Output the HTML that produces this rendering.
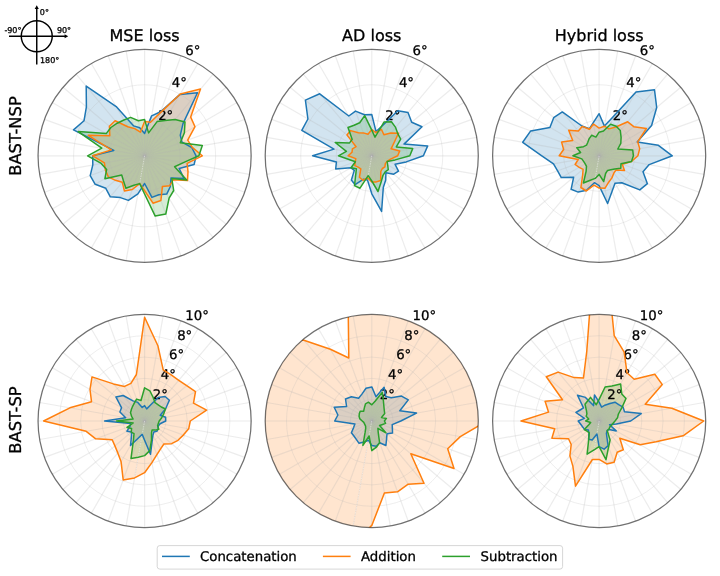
<!DOCTYPE html>
<html lang="en"><head><meta charset="utf-8"><title>Polar loss comparison</title>
<style>html,body{margin:0;padding:0;background:#fff}body{width:720px;height:576px;overflow:hidden}svg{display:block}text{font-family:"DejaVu Sans", "Liberation Sans", sans-serif;fill:#000;text-rendering:geometricPrecision;stroke:#000;stroke-width:0.3px;stroke-linejoin:round}</style>
</head><body>
<svg width="720" height="576" viewBox="0 0 720 576">
<rect width="720" height="576" fill="#fff"/>
<defs>
<clipPath id="c00"><circle cx="144.6" cy="155.8" r="106.55"/></clipPath>
<clipPath id="c01"><circle cx="371.75" cy="155.8" r="106.55"/></clipPath>
<clipPath id="c02"><circle cx="599.15" cy="155.8" r="106.55"/></clipPath>
<clipPath id="c10"><circle cx="144.6" cy="421.0" r="106.55"/></clipPath>
<clipPath id="c11"><circle cx="371.75" cy="421.0" r="106.55"/></clipPath>
<clipPath id="c12"><circle cx="599.15" cy="421.0" r="106.55"/></clipPath>
</defs>
<g>
<g clip-path="url(#c00)">
<polygon points="144.6,133.4 151.6,115.9 160.6,111.7 180.0,94.4 197.5,92.8 183.0,123.6 180.3,135.2 182.0,142.2 191.8,147.5 196.1,155.8 194.1,164.5 179.1,168.4 184.1,178.6 171.0,177.9 170.4,186.5 166.7,194.1 158.8,194.7 151.9,197.4 144.6,183.5 137.9,193.8 128.4,200.4 120.4,197.6 110.2,196.7 105.8,188.3 95.2,184.3 90.2,175.6 92.8,164.9 92.7,155.8 113.8,150.4 73.5,129.9 84.0,120.8 86.4,106.9 86.2,86.1 116.2,106.6 133.7,125.9 139.7,127.8" fill="#1f77b4" fill-opacity="0.2" stroke="none"/>
<polygon points="144.6,121.5 150.5,122.2 160.2,112.9 180.3,94.0 200.5,89.1 190.7,117.1 195.0,126.7 187.7,140.1 192.3,147.4 202.3,155.8 187.1,163.3 188.0,171.6 187.5,180.6 173.2,179.8 169.7,185.7 162.4,186.6 160.9,200.5 153.0,203.2 144.6,190.6 139.7,183.6 132.3,189.5 124.4,190.9 122.3,182.3 115.4,180.3 108.3,176.8 105.4,170.1 104.4,162.9 92.7,155.8 111.4,149.9 88.2,135.3 109.8,135.7 109.4,126.2 115.1,120.7 127.8,126.7 134.7,128.6 140.4,132.2" fill="#ff7f0e" fill-opacity="0.2" stroke="none"/>
<polygon points="144.6,119.6 148.6,132.9 157.1,121.6 165.0,120.4 175.1,119.5 185.0,121.9 184.4,132.8 180.3,142.8 202.3,145.6 198.9,155.8 183.4,162.6 174.6,166.7 186.7,180.1 171.8,178.6 173.7,190.5 169.1,198.2 165.8,214.0 155.2,216.1 144.6,194.0 139.7,183.6 133.9,185.2 125.9,188.3 123.5,181.0 121.7,175.0 104.9,178.7 106.6,169.6 101.2,163.4 87.6,155.8 101.8,148.2 78.2,131.6 106.2,133.6 110.9,127.5 117.2,123.2 123.9,120.0 130.6,117.4 138.4,120.8" fill="#2ca02c" fill-opacity="0.2" stroke="none"/>
</g>
<g stroke="#b0b0b0" stroke-opacity="0.245" stroke-width="1.2" fill="none"><line x1="144.6" y1="155.8" x2="144.6" y2="49.3"/><line x1="144.6" y1="155.8" x2="163.1" y2="50.9"/><line x1="144.6" y1="155.8" x2="181.0" y2="55.7"/><line x1="144.6" y1="155.8" x2="197.9" y2="63.5"/><line x1="144.6" y1="155.8" x2="213.1" y2="74.2"/><line x1="144.6" y1="155.8" x2="226.2" y2="87.3"/><line x1="144.6" y1="155.8" x2="236.9" y2="102.5"/><line x1="144.6" y1="155.8" x2="244.7" y2="119.4"/><line x1="144.6" y1="155.8" x2="249.5" y2="137.3"/><line x1="144.6" y1="155.8" x2="251.1" y2="155.8"/><line x1="144.6" y1="155.8" x2="249.5" y2="174.3"/><line x1="144.6" y1="155.8" x2="244.7" y2="192.2"/><line x1="144.6" y1="155.8" x2="236.9" y2="209.1"/><line x1="144.6" y1="155.8" x2="226.2" y2="224.3"/><line x1="144.6" y1="155.8" x2="213.1" y2="237.4"/><line x1="144.6" y1="155.8" x2="197.9" y2="248.1"/><line x1="144.6" y1="155.8" x2="181.0" y2="255.9"/><line x1="144.6" y1="155.8" x2="163.1" y2="260.7"/><line x1="144.6" y1="155.8" x2="144.6" y2="262.4"/><line x1="144.6" y1="155.8" x2="126.1" y2="260.7"/><line x1="144.6" y1="155.8" x2="108.2" y2="255.9"/><line x1="144.6" y1="155.8" x2="91.3" y2="248.1"/><line x1="144.6" y1="155.8" x2="76.1" y2="237.4"/><line x1="144.6" y1="155.8" x2="63.0" y2="224.3"/><line x1="144.6" y1="155.8" x2="52.3" y2="209.1"/><line x1="144.6" y1="155.8" x2="44.5" y2="192.2"/><line x1="144.6" y1="155.8" x2="39.7" y2="174.3"/><line x1="144.6" y1="155.8" x2="38.0" y2="155.8"/><line x1="144.6" y1="155.8" x2="39.7" y2="137.3"/><line x1="144.6" y1="155.8" x2="44.5" y2="119.4"/><line x1="144.6" y1="155.8" x2="52.3" y2="102.5"/><line x1="144.6" y1="155.8" x2="63.0" y2="87.3"/><line x1="144.6" y1="155.8" x2="76.1" y2="74.2"/><line x1="144.6" y1="155.8" x2="91.3" y2="63.5"/><line x1="144.6" y1="155.8" x2="108.2" y2="55.7"/><line x1="144.6" y1="155.8" x2="126.1" y2="50.9"/><circle cx="144.6" cy="155.8" r="35.52" stroke-width="0.9"/><circle cx="144.6" cy="155.8" r="71.03" stroke-width="0.9"/></g>
<line x1="144.6" y1="155.8" x2="137.9" y2="193.8" stroke="#fff" stroke-opacity="0.45" stroke-width="1" stroke-dasharray="1.5 1"/>
<text x="158.14" y="120.29" font-size="13.3">2°</text>
<text x="171.73" y="87.47" font-size="13.3">4°</text>
<text x="185.32" y="54.66" font-size="13.3">6°</text>
<g clip-path="url(#c00)" fill="none" stroke-width="1.5" stroke-linejoin="round">
<polygon points="144.6,133.4 151.6,115.9 160.6,111.7 180.0,94.4 197.5,92.8 183.0,123.6 180.3,135.2 182.0,142.2 191.8,147.5 196.1,155.8 194.1,164.5 179.1,168.4 184.1,178.6 171.0,177.9 170.4,186.5 166.7,194.1 158.8,194.7 151.9,197.4 144.6,183.5 137.9,193.8 128.4,200.4 120.4,197.6 110.2,196.7 105.8,188.3 95.2,184.3 90.2,175.6 92.8,164.9 92.7,155.8 113.8,150.4 73.5,129.9 84.0,120.8 86.4,106.9 86.2,86.1 116.2,106.6 133.7,125.9 139.7,127.8" stroke="#1f77b4"/>
<polygon points="144.6,121.5 150.5,122.2 160.2,112.9 180.3,94.0 200.5,89.1 190.7,117.1 195.0,126.7 187.7,140.1 192.3,147.4 202.3,155.8 187.1,163.3 188.0,171.6 187.5,180.6 173.2,179.8 169.7,185.7 162.4,186.6 160.9,200.5 153.0,203.2 144.6,190.6 139.7,183.6 132.3,189.5 124.4,190.9 122.3,182.3 115.4,180.3 108.3,176.8 105.4,170.1 104.4,162.9 92.7,155.8 111.4,149.9 88.2,135.3 109.8,135.7 109.4,126.2 115.1,120.7 127.8,126.7 134.7,128.6 140.4,132.2" stroke="#ff7f0e"/>
<polygon points="144.6,119.6 148.6,132.9 157.1,121.6 165.0,120.4 175.1,119.5 185.0,121.9 184.4,132.8 180.3,142.8 202.3,145.6 198.9,155.8 183.4,162.6 174.6,166.7 186.7,180.1 171.8,178.6 173.7,190.5 169.1,198.2 165.8,214.0 155.2,216.1 144.6,194.0 139.7,183.6 133.9,185.2 125.9,188.3 123.5,181.0 121.7,175.0 104.9,178.7 106.6,169.6 101.2,163.4 87.6,155.8 101.8,148.2 78.2,131.6 106.2,133.6 110.9,127.5 117.2,123.2 123.9,120.0 130.6,117.4 138.4,120.8" stroke="#2ca02c"/>
</g>
<circle cx="144.6" cy="155.8" r="106.55" fill="none" stroke="#000" stroke-opacity="0.56" stroke-width="1.25"/>
</g>
<g>
<g clip-path="url(#c01)">
<polygon points="371.8,114.6 376.0,131.5 382.9,125.3 397.8,110.7 408.0,112.5 411.7,122.2 422.0,126.8 404.0,144.1 427.7,145.9 423.4,155.8 406.2,161.9 395.1,164.3 398.5,171.2 393.7,174.2 385.9,172.7 385.7,179.9 383.3,187.5 381.6,211.4 371.8,193.8 367.5,180.1 363.2,179.3 355.1,184.7 351.4,180.0 354.3,170.4 351.0,167.8 335.7,168.9 336.4,162.0 312.6,155.8 334.0,149.1 301.8,130.4 307.9,119.0 305.4,100.1 319.7,93.8 348.8,116.0 355.5,111.1 364.5,114.7" fill="#1f77b4" fill-opacity="0.2" stroke="none"/>
<polygon points="371.8,129.5 375.8,132.7 381.4,129.3 383.9,134.7 390.8,133.1 398.5,133.3 393.9,143.0 391.1,148.8 399.7,150.9 397.7,155.8 390.6,159.1 387.1,161.4 385.3,163.6 384.9,166.9 382.4,168.5 380.8,171.5 380.7,180.5 376.3,181.9 371.8,182.1 367.8,178.0 362.9,180.2 359.4,177.2 360.8,168.9 358.1,167.2 354.8,165.6 355.2,161.8 355.8,158.6 348.1,155.8 352.0,152.3 352.4,148.8 356.1,146.7 346.9,134.9 350.6,130.6 358.4,132.7 363.4,132.9 368.0,134.3" fill="#ff7f0e" fill-opacity="0.2" stroke="none"/>
<polygon points="371.8,130.1 375.0,137.1 384.0,122.1 391.4,121.8 395.6,127.4 397.9,133.9 400.7,139.1 396.3,146.9 412.7,148.6 409.8,155.8 395.2,159.9 387.1,161.4 387.7,165.0 388.3,169.7 385.2,171.9 383.0,175.3 381.2,181.7 378.0,191.5 371.8,181.0 368.2,175.7 360.0,188.2 354.5,185.6 355.7,175.0 356.4,168.7 351.0,167.8 355.4,161.8 349.7,159.7 338.4,155.8 346.4,151.3 335.2,142.5 349.5,142.9 352.2,139.4 348.0,127.5 354.1,125.2 359.7,122.8 364.7,115.6" fill="#2ca02c" fill-opacity="0.2" stroke="none"/>
</g>
<g stroke="#b0b0b0" stroke-opacity="0.245" stroke-width="1.2" fill="none"><line x1="371.75" y1="155.8" x2="371.8" y2="49.3"/><line x1="371.75" y1="155.8" x2="390.3" y2="50.9"/><line x1="371.75" y1="155.8" x2="408.2" y2="55.7"/><line x1="371.75" y1="155.8" x2="425.0" y2="63.5"/><line x1="371.75" y1="155.8" x2="440.2" y2="74.2"/><line x1="371.75" y1="155.8" x2="453.4" y2="87.3"/><line x1="371.75" y1="155.8" x2="464.0" y2="102.5"/><line x1="371.75" y1="155.8" x2="471.9" y2="119.4"/><line x1="371.75" y1="155.8" x2="476.7" y2="137.3"/><line x1="371.75" y1="155.8" x2="478.3" y2="155.8"/><line x1="371.75" y1="155.8" x2="476.7" y2="174.3"/><line x1="371.75" y1="155.8" x2="471.9" y2="192.2"/><line x1="371.75" y1="155.8" x2="464.0" y2="209.1"/><line x1="371.75" y1="155.8" x2="453.4" y2="224.3"/><line x1="371.75" y1="155.8" x2="440.2" y2="237.4"/><line x1="371.75" y1="155.8" x2="425.0" y2="248.1"/><line x1="371.75" y1="155.8" x2="408.2" y2="255.9"/><line x1="371.75" y1="155.8" x2="390.3" y2="260.7"/><line x1="371.75" y1="155.8" x2="371.8" y2="262.4"/><line x1="371.75" y1="155.8" x2="353.2" y2="260.7"/><line x1="371.75" y1="155.8" x2="335.3" y2="255.9"/><line x1="371.75" y1="155.8" x2="318.5" y2="248.1"/><line x1="371.75" y1="155.8" x2="303.3" y2="237.4"/><line x1="371.75" y1="155.8" x2="290.1" y2="224.3"/><line x1="371.75" y1="155.8" x2="279.5" y2="209.1"/><line x1="371.75" y1="155.8" x2="271.6" y2="192.2"/><line x1="371.75" y1="155.8" x2="266.8" y2="174.3"/><line x1="371.75" y1="155.8" x2="265.2" y2="155.8"/><line x1="371.75" y1="155.8" x2="266.8" y2="137.3"/><line x1="371.75" y1="155.8" x2="271.6" y2="119.4"/><line x1="371.75" y1="155.8" x2="279.5" y2="102.5"/><line x1="371.75" y1="155.8" x2="290.1" y2="87.3"/><line x1="371.75" y1="155.8" x2="303.3" y2="74.2"/><line x1="371.75" y1="155.8" x2="318.5" y2="63.5"/><line x1="371.75" y1="155.8" x2="335.3" y2="55.7"/><line x1="371.75" y1="155.8" x2="353.2" y2="50.9"/><circle cx="371.75" cy="155.8" r="35.52" stroke-width="0.9"/><circle cx="371.75" cy="155.8" r="71.03" stroke-width="0.9"/></g>
<line x1="371.75" y1="155.8" x2="367.5" y2="180.1" stroke="#fff" stroke-opacity="0.45" stroke-width="1" stroke-dasharray="1.5 1"/>
<text x="385.29" y="120.29" font-size="13.3">2°</text>
<text x="398.88" y="87.47" font-size="13.3">4°</text>
<text x="412.47" y="54.66" font-size="13.3">6°</text>
<g clip-path="url(#c01)" fill="none" stroke-width="1.5" stroke-linejoin="round">
<polygon points="371.8,114.6 376.0,131.5 382.9,125.3 397.8,110.7 408.0,112.5 411.7,122.2 422.0,126.8 404.0,144.1 427.7,145.9 423.4,155.8 406.2,161.9 395.1,164.3 398.5,171.2 393.7,174.2 385.9,172.7 385.7,179.9 383.3,187.5 381.6,211.4 371.8,193.8 367.5,180.1 363.2,179.3 355.1,184.7 351.4,180.0 354.3,170.4 351.0,167.8 335.7,168.9 336.4,162.0 312.6,155.8 334.0,149.1 301.8,130.4 307.9,119.0 305.4,100.1 319.7,93.8 348.8,116.0 355.5,111.1 364.5,114.7" stroke="#1f77b4"/>
<polygon points="371.8,129.5 375.8,132.7 381.4,129.3 383.9,134.7 390.8,133.1 398.5,133.3 393.9,143.0 391.1,148.8 399.7,150.9 397.7,155.8 390.6,159.1 387.1,161.4 385.3,163.6 384.9,166.9 382.4,168.5 380.8,171.5 380.7,180.5 376.3,181.9 371.8,182.1 367.8,178.0 362.9,180.2 359.4,177.2 360.8,168.9 358.1,167.2 354.8,165.6 355.2,161.8 355.8,158.6 348.1,155.8 352.0,152.3 352.4,148.8 356.1,146.7 346.9,134.9 350.6,130.6 358.4,132.7 363.4,132.9 368.0,134.3" stroke="#ff7f0e"/>
<polygon points="371.8,130.1 375.0,137.1 384.0,122.1 391.4,121.8 395.6,127.4 397.9,133.9 400.7,139.1 396.3,146.9 412.7,148.6 409.8,155.8 395.2,159.9 387.1,161.4 387.7,165.0 388.3,169.7 385.2,171.9 383.0,175.3 381.2,181.7 378.0,191.5 371.8,181.0 368.2,175.7 360.0,188.2 354.5,185.6 355.7,175.0 356.4,168.7 351.0,167.8 355.4,161.8 349.7,159.7 338.4,155.8 346.4,151.3 335.2,142.5 349.5,142.9 352.2,139.4 348.0,127.5 354.1,125.2 359.7,122.8 364.7,115.6" stroke="#2ca02c"/>
</g>
<circle cx="371.75" cy="155.8" r="106.55" fill="none" stroke="#000" stroke-opacity="0.56" stroke-width="1.25"/>
</g>
<g>
<g clip-path="url(#c02)">
<polygon points="599.1,113.7 604.4,126.1 613.4,116.6 636.0,92.0 654.5,89.8 656.7,107.5 651.6,125.5 637.2,142.0 658.4,145.3 672.3,155.8 649.2,164.6 643.0,171.8 647.4,183.7 639.8,189.9 621.8,182.7 615.0,183.2 612.1,191.3 607.6,203.5 599.1,185.6 594.4,182.7 586.6,190.2 578.2,192.1 571.1,189.3 573.6,177.3 561.3,177.6 557.6,170.9 553.5,163.8 541.8,155.8 522.7,142.3 530.7,130.9 549.9,127.4 553.7,117.7 562.3,111.9 581.9,126.0 589.3,128.8 593.3,122.6" fill="#1f77b4" fill-opacity="0.2" stroke="none"/>
<polygon points="599.1,128.1 604.4,126.2 608.9,128.9 615.8,127.0 627.7,121.8 633.8,126.7 646.4,128.5 637.7,141.8 639.7,148.6 637.9,155.8 631.5,161.5 622.3,164.2 624.5,170.5 616.0,170.0 613.8,173.2 611.9,177.9 608.7,182.2 604.9,188.3 599.1,188.1 594.0,185.2 586.3,191.0 580.9,187.5 582.6,175.5 583.1,169.3 579.2,167.3 575.1,164.5 578.2,159.5 559.2,155.8 563.6,149.5 561.6,142.1 572.7,140.5 568.7,130.2 578.3,130.9 582.2,126.4 589.5,129.3 593.5,124.0" fill="#ff7f0e" fill-opacity="0.2" stroke="none"/>
<polygon points="599.1,132.2 603.5,131.0 610.6,124.3 616.2,126.3 620.3,130.6 621.1,137.4 620.8,143.3 617.8,149.0 632.7,149.9 633.4,155.8 631.5,161.5 621.0,163.8 620.8,168.3 614.8,168.9 610.8,169.7 607.6,170.4 605.6,173.5 603.7,181.5 599.1,174.4 595.2,178.4 590.3,180.2 583.4,183.0 586.1,171.3 586.5,166.4 585.2,163.9 583.6,161.4 581.8,158.9 572.9,155.8 580.6,152.5 576.8,147.7 583.5,146.7 586.5,145.2 587.8,142.3 589.2,138.6 591.7,135.3 595.9,137.1" fill="#2ca02c" fill-opacity="0.2" stroke="none"/>
</g>
<g stroke="#b0b0b0" stroke-opacity="0.245" stroke-width="1.2" fill="none"><line x1="599.15" y1="155.8" x2="599.1" y2="49.3"/><line x1="599.15" y1="155.8" x2="617.7" y2="50.9"/><line x1="599.15" y1="155.8" x2="635.6" y2="55.7"/><line x1="599.15" y1="155.8" x2="652.4" y2="63.5"/><line x1="599.15" y1="155.8" x2="667.6" y2="74.2"/><line x1="599.15" y1="155.8" x2="680.8" y2="87.3"/><line x1="599.15" y1="155.8" x2="691.4" y2="102.5"/><line x1="599.15" y1="155.8" x2="699.3" y2="119.4"/><line x1="599.15" y1="155.8" x2="704.1" y2="137.3"/><line x1="599.15" y1="155.8" x2="705.7" y2="155.8"/><line x1="599.15" y1="155.8" x2="704.1" y2="174.3"/><line x1="599.15" y1="155.8" x2="699.3" y2="192.2"/><line x1="599.15" y1="155.8" x2="691.4" y2="209.1"/><line x1="599.15" y1="155.8" x2="680.8" y2="224.3"/><line x1="599.15" y1="155.8" x2="667.6" y2="237.4"/><line x1="599.15" y1="155.8" x2="652.4" y2="248.1"/><line x1="599.15" y1="155.8" x2="635.6" y2="255.9"/><line x1="599.15" y1="155.8" x2="617.7" y2="260.7"/><line x1="599.15" y1="155.8" x2="599.1" y2="262.4"/><line x1="599.15" y1="155.8" x2="580.6" y2="260.7"/><line x1="599.15" y1="155.8" x2="562.7" y2="255.9"/><line x1="599.15" y1="155.8" x2="545.9" y2="248.1"/><line x1="599.15" y1="155.8" x2="530.7" y2="237.4"/><line x1="599.15" y1="155.8" x2="517.5" y2="224.3"/><line x1="599.15" y1="155.8" x2="506.9" y2="209.1"/><line x1="599.15" y1="155.8" x2="499.0" y2="192.2"/><line x1="599.15" y1="155.8" x2="494.2" y2="174.3"/><line x1="599.15" y1="155.8" x2="492.6" y2="155.8"/><line x1="599.15" y1="155.8" x2="494.2" y2="137.3"/><line x1="599.15" y1="155.8" x2="499.0" y2="119.4"/><line x1="599.15" y1="155.8" x2="506.9" y2="102.5"/><line x1="599.15" y1="155.8" x2="517.5" y2="87.3"/><line x1="599.15" y1="155.8" x2="530.7" y2="74.2"/><line x1="599.15" y1="155.8" x2="545.9" y2="63.5"/><line x1="599.15" y1="155.8" x2="562.7" y2="55.7"/><line x1="599.15" y1="155.8" x2="580.6" y2="50.9"/><circle cx="599.15" cy="155.8" r="35.52" stroke-width="0.9"/><circle cx="599.15" cy="155.8" r="71.03" stroke-width="0.9"/></g>
<line x1="599.15" y1="155.8" x2="594.0" y2="185.2" stroke="#fff" stroke-opacity="0.45" stroke-width="1" stroke-dasharray="1.5 1"/>
<text x="612.69" y="120.29" font-size="13.3">2°</text>
<text x="626.28" y="87.47" font-size="13.3">4°</text>
<text x="639.87" y="54.66" font-size="13.3">6°</text>
<g clip-path="url(#c02)" fill="none" stroke-width="1.5" stroke-linejoin="round">
<polygon points="599.1,113.7 604.4,126.1 613.4,116.6 636.0,92.0 654.5,89.8 656.7,107.5 651.6,125.5 637.2,142.0 658.4,145.3 672.3,155.8 649.2,164.6 643.0,171.8 647.4,183.7 639.8,189.9 621.8,182.7 615.0,183.2 612.1,191.3 607.6,203.5 599.1,185.6 594.4,182.7 586.6,190.2 578.2,192.1 571.1,189.3 573.6,177.3 561.3,177.6 557.6,170.9 553.5,163.8 541.8,155.8 522.7,142.3 530.7,130.9 549.9,127.4 553.7,117.7 562.3,111.9 581.9,126.0 589.3,128.8 593.3,122.6" stroke="#1f77b4"/>
<polygon points="599.1,128.1 604.4,126.2 608.9,128.9 615.8,127.0 627.7,121.8 633.8,126.7 646.4,128.5 637.7,141.8 639.7,148.6 637.9,155.8 631.5,161.5 622.3,164.2 624.5,170.5 616.0,170.0 613.8,173.2 611.9,177.9 608.7,182.2 604.9,188.3 599.1,188.1 594.0,185.2 586.3,191.0 580.9,187.5 582.6,175.5 583.1,169.3 579.2,167.3 575.1,164.5 578.2,159.5 559.2,155.8 563.6,149.5 561.6,142.1 572.7,140.5 568.7,130.2 578.3,130.9 582.2,126.4 589.5,129.3 593.5,124.0" stroke="#ff7f0e"/>
<polygon points="599.1,132.2 603.5,131.0 610.6,124.3 616.2,126.3 620.3,130.6 621.1,137.4 620.8,143.3 617.8,149.0 632.7,149.9 633.4,155.8 631.5,161.5 621.0,163.8 620.8,168.3 614.8,168.9 610.8,169.7 607.6,170.4 605.6,173.5 603.7,181.5 599.1,174.4 595.2,178.4 590.3,180.2 583.4,183.0 586.1,171.3 586.5,166.4 585.2,163.9 583.6,161.4 581.8,158.9 572.9,155.8 580.6,152.5 576.8,147.7 583.5,146.7 586.5,145.2 587.8,142.3 589.2,138.6 591.7,135.3 595.9,137.1" stroke="#2ca02c"/>
</g>
<circle cx="599.15" cy="155.8" r="106.55" fill="none" stroke="#000" stroke-opacity="0.56" stroke-width="1.25"/>
</g>
<g>
<g clip-path="url(#c10)">
<polygon points="144.6,405.6 146.7,408.9 150.3,405.3 158.2,397.5 165.1,396.5 169.4,400.2 165.5,409.0 160.2,415.3 165.6,417.3 165.7,421.0 160.1,423.7 158.2,426.0 158.1,428.8 156.8,431.3 153.8,432.0 152.9,435.3 152.1,441.5 150.5,454.3 144.6,440.2 142.2,434.4 138.4,438.0 130.5,445.5 131.4,436.8 131.5,432.0 126.9,431.2 130.0,426.3 130.6,423.5 104.6,421.0 125.7,417.7 119.9,412.0 121.5,407.7 115.9,396.9 123.2,395.5 133.0,400.9 137.8,402.4 142.2,407.5" fill="#1f77b4" fill-opacity="0.2" stroke="none"/>
<polygon points="144.6,317.3 157.9,345.7 163.2,369.8 171.2,374.9 178.8,380.3 186.7,385.7 195.5,391.6 193.5,403.2 206.6,410.1 190.3,421.0 188.7,428.8 183.3,435.1 178.0,440.3 171.6,443.7 163.9,444.0 160.6,448.8 156.9,454.7 151.9,462.6 144.6,472.7 134.6,477.9 123.2,479.9 121.1,461.8 117.8,452.9 114.9,445.9 112.2,439.7 95.7,438.8 86.2,431.3 43.6,421.0 69.9,407.8 91.5,401.7 90.0,389.5 92.0,376.9 113.4,383.9 124.6,386.4 130.9,383.4 136.4,374.5" fill="#ff7f0e" fill-opacity="0.2" stroke="none"/>
<polygon points="144.6,387.8 149.9,390.8 153.2,397.5 155.1,402.7 158.2,404.8 161.3,407.0 165.5,409.0 163.6,414.1 161.6,418.0 159.2,421.0 158.3,423.4 157.6,425.7 158.8,429.2 155.5,430.1 152.1,430.0 151.5,433.0 151.5,440.0 149.8,450.6 144.6,455.6 138.2,457.3 131.0,458.4 133.4,440.5 134.0,433.7 131.2,432.2 131.6,428.5 127.0,427.4 133.2,423.0 116.5,421.0 133.1,419.0 131.6,416.3 130.5,412.8 131.3,409.8 132.5,406.6 134.3,403.2 136.6,399.1 141.0,400.5" fill="#2ca02c" fill-opacity="0.2" stroke="none"/>
</g>
<g stroke="#b0b0b0" stroke-opacity="0.245" stroke-width="1.2" fill="none"><line x1="144.6" y1="421.0" x2="144.6" y2="314.4"/><line x1="144.6" y1="421.0" x2="163.1" y2="316.1"/><line x1="144.6" y1="421.0" x2="181.0" y2="320.9"/><line x1="144.6" y1="421.0" x2="197.9" y2="328.7"/><line x1="144.6" y1="421.0" x2="213.1" y2="339.4"/><line x1="144.6" y1="421.0" x2="226.2" y2="352.5"/><line x1="144.6" y1="421.0" x2="236.9" y2="367.7"/><line x1="144.6" y1="421.0" x2="244.7" y2="384.6"/><line x1="144.6" y1="421.0" x2="249.5" y2="402.5"/><line x1="144.6" y1="421.0" x2="251.1" y2="421.0"/><line x1="144.6" y1="421.0" x2="249.5" y2="439.5"/><line x1="144.6" y1="421.0" x2="244.7" y2="457.4"/><line x1="144.6" y1="421.0" x2="236.9" y2="474.3"/><line x1="144.6" y1="421.0" x2="226.2" y2="489.5"/><line x1="144.6" y1="421.0" x2="213.1" y2="502.6"/><line x1="144.6" y1="421.0" x2="197.9" y2="513.3"/><line x1="144.6" y1="421.0" x2="181.0" y2="521.1"/><line x1="144.6" y1="421.0" x2="163.1" y2="525.9"/><line x1="144.6" y1="421.0" x2="144.6" y2="527.5"/><line x1="144.6" y1="421.0" x2="126.1" y2="525.9"/><line x1="144.6" y1="421.0" x2="108.2" y2="521.1"/><line x1="144.6" y1="421.0" x2="91.3" y2="513.3"/><line x1="144.6" y1="421.0" x2="76.1" y2="502.6"/><line x1="144.6" y1="421.0" x2="63.0" y2="489.5"/><line x1="144.6" y1="421.0" x2="52.3" y2="474.3"/><line x1="144.6" y1="421.0" x2="44.5" y2="457.4"/><line x1="144.6" y1="421.0" x2="39.7" y2="439.5"/><line x1="144.6" y1="421.0" x2="38.0" y2="421.0"/><line x1="144.6" y1="421.0" x2="39.7" y2="402.5"/><line x1="144.6" y1="421.0" x2="44.5" y2="384.6"/><line x1="144.6" y1="421.0" x2="52.3" y2="367.7"/><line x1="144.6" y1="421.0" x2="63.0" y2="352.5"/><line x1="144.6" y1="421.0" x2="76.1" y2="339.4"/><line x1="144.6" y1="421.0" x2="91.3" y2="328.7"/><line x1="144.6" y1="421.0" x2="108.2" y2="320.9"/><line x1="144.6" y1="421.0" x2="126.1" y2="316.1"/><circle cx="144.6" cy="421.0" r="21.31" stroke-width="0.9"/><circle cx="144.6" cy="421.0" r="42.62" stroke-width="0.9"/><circle cx="144.6" cy="421.0" r="63.93" stroke-width="0.9"/><circle cx="144.6" cy="421.0" r="85.24" stroke-width="0.9"/></g>
<line x1="144.6" y1="421.0" x2="134.6" y2="477.9" stroke="#fff" stroke-opacity="0.45" stroke-width="1" stroke-dasharray="1.5 1"/>
<text x="152.70" y="398.61" font-size="13.3">2°</text>
<text x="160.86" y="378.92" font-size="13.3">4°</text>
<text x="169.01" y="359.24" font-size="13.3">6°</text>
<text x="177.17" y="339.55" font-size="13.3">8°</text>
<text x="185.32" y="319.86" font-size="13.3">10°</text>
<g clip-path="url(#c10)" fill="none" stroke-width="1.5" stroke-linejoin="round">
<polygon points="144.6,405.6 146.7,408.9 150.3,405.3 158.2,397.5 165.1,396.5 169.4,400.2 165.5,409.0 160.2,415.3 165.6,417.3 165.7,421.0 160.1,423.7 158.2,426.0 158.1,428.8 156.8,431.3 153.8,432.0 152.9,435.3 152.1,441.5 150.5,454.3 144.6,440.2 142.2,434.4 138.4,438.0 130.5,445.5 131.4,436.8 131.5,432.0 126.9,431.2 130.0,426.3 130.6,423.5 104.6,421.0 125.7,417.7 119.9,412.0 121.5,407.7 115.9,396.9 123.2,395.5 133.0,400.9 137.8,402.4 142.2,407.5" stroke="#1f77b4"/>
<polygon points="144.6,317.3 157.9,345.7 163.2,369.8 171.2,374.9 178.8,380.3 186.7,385.7 195.5,391.6 193.5,403.2 206.6,410.1 190.3,421.0 188.7,428.8 183.3,435.1 178.0,440.3 171.6,443.7 163.9,444.0 160.6,448.8 156.9,454.7 151.9,462.6 144.6,472.7 134.6,477.9 123.2,479.9 121.1,461.8 117.8,452.9 114.9,445.9 112.2,439.7 95.7,438.8 86.2,431.3 43.6,421.0 69.9,407.8 91.5,401.7 90.0,389.5 92.0,376.9 113.4,383.9 124.6,386.4 130.9,383.4 136.4,374.5" stroke="#ff7f0e"/>
<polygon points="144.6,387.8 149.9,390.8 153.2,397.5 155.1,402.7 158.2,404.8 161.3,407.0 165.5,409.0 163.6,414.1 161.6,418.0 159.2,421.0 158.3,423.4 157.6,425.7 158.8,429.2 155.5,430.1 152.1,430.0 151.5,433.0 151.5,440.0 149.8,450.6 144.6,455.6 138.2,457.3 131.0,458.4 133.4,440.5 134.0,433.7 131.2,432.2 131.6,428.5 127.0,427.4 133.2,423.0 116.5,421.0 133.1,419.0 131.6,416.3 130.5,412.8 131.3,409.8 132.5,406.6 134.3,403.2 136.6,399.1 141.0,400.5" stroke="#2ca02c"/>
</g>
<circle cx="144.6" cy="421.0" r="106.55" fill="none" stroke="#000" stroke-opacity="0.56" stroke-width="1.25"/>
</g>
<g>
<g clip-path="url(#c11)">
<polygon points="371.8,386.9 376.0,396.7 384.1,387.2 385.8,396.6 391.3,397.7 401.5,396.1 408.3,399.9 399.8,410.8 416.5,413.1 400.8,421.0 392.2,424.6 392.4,428.5 392.5,433.0 387.0,433.8 386.6,438.7 385.9,445.5 379.7,442.8 376.2,446.2 371.8,445.5 368.4,440.2 364.1,442.1 358.9,443.2 356.3,439.4 353.9,436.0 351.4,432.7 353.6,427.6 354.9,424.0 334.7,421.0 337.9,415.0 334.2,407.3 346.6,406.5 345.5,399.0 351.4,396.8 358.6,398.3 361.9,394.1 366.0,388.2" fill="#1f77b4" fill-opacity="0.2" stroke="none"/>
<polygon points="371.8,293.1 394.0,295.1 415.5,300.9 435.7,310.3 453.9,323.1 469.7,338.8 482.5,357.1 491.9,377.3 497.7,398.8 486.8,421.0 460.3,436.6 447.7,448.7 454.0,468.5 410.8,453.7 424.0,483.3 408.2,484.2 397.5,491.8 384.4,493.0 371.8,525.4 349.5,546.9 328.0,541.1 307.8,531.7 289.6,518.9 273.8,503.2 261.0,484.9 251.6,464.7 245.8,443.2 243.9,421.0 245.8,398.8 251.6,377.3 261.0,357.1 273.8,338.8 303.9,340.2 330.4,349.3 348.8,358.0 347.9,285.6" fill="#ff7f0e" fill-opacity="0.2" stroke="none"/>
<polygon points="371.8,404.8 375.3,401.0 382.2,392.4 383.4,400.8 383.9,406.5 384.3,410.5 384.7,413.5 381.5,417.5 386.4,418.4 384.4,421.0 385.6,423.4 381.9,424.7 379.6,425.5 385.9,432.8 377.9,428.3 378.2,432.3 379.6,442.6 376.4,447.2 371.8,450.6 369.1,436.0 362.9,445.4 365.1,432.4 365.7,428.3 365.6,426.1 365.0,424.9 364.4,423.7 363.8,422.4 362.2,421.0 359.9,418.9 359.1,416.4 359.3,413.8 360.2,411.3 363.6,411.3 364.3,408.1 365.5,403.8 368.4,402.2" fill="#2ca02c" fill-opacity="0.2" stroke="none"/>
</g>
<g stroke="#b0b0b0" stroke-opacity="0.245" stroke-width="1.2" fill="none"><line x1="371.75" y1="421.0" x2="371.8" y2="314.4"/><line x1="371.75" y1="421.0" x2="390.3" y2="316.1"/><line x1="371.75" y1="421.0" x2="408.2" y2="320.9"/><line x1="371.75" y1="421.0" x2="425.0" y2="328.7"/><line x1="371.75" y1="421.0" x2="440.2" y2="339.4"/><line x1="371.75" y1="421.0" x2="453.4" y2="352.5"/><line x1="371.75" y1="421.0" x2="464.0" y2="367.7"/><line x1="371.75" y1="421.0" x2="471.9" y2="384.6"/><line x1="371.75" y1="421.0" x2="476.7" y2="402.5"/><line x1="371.75" y1="421.0" x2="478.3" y2="421.0"/><line x1="371.75" y1="421.0" x2="476.7" y2="439.5"/><line x1="371.75" y1="421.0" x2="471.9" y2="457.4"/><line x1="371.75" y1="421.0" x2="464.0" y2="474.3"/><line x1="371.75" y1="421.0" x2="453.4" y2="489.5"/><line x1="371.75" y1="421.0" x2="440.2" y2="502.6"/><line x1="371.75" y1="421.0" x2="425.0" y2="513.3"/><line x1="371.75" y1="421.0" x2="408.2" y2="521.1"/><line x1="371.75" y1="421.0" x2="390.3" y2="525.9"/><line x1="371.75" y1="421.0" x2="371.8" y2="527.5"/><line x1="371.75" y1="421.0" x2="353.2" y2="525.9"/><line x1="371.75" y1="421.0" x2="335.3" y2="521.1"/><line x1="371.75" y1="421.0" x2="318.5" y2="513.3"/><line x1="371.75" y1="421.0" x2="303.3" y2="502.6"/><line x1="371.75" y1="421.0" x2="290.1" y2="489.5"/><line x1="371.75" y1="421.0" x2="279.5" y2="474.3"/><line x1="371.75" y1="421.0" x2="271.6" y2="457.4"/><line x1="371.75" y1="421.0" x2="266.8" y2="439.5"/><line x1="371.75" y1="421.0" x2="265.2" y2="421.0"/><line x1="371.75" y1="421.0" x2="266.8" y2="402.5"/><line x1="371.75" y1="421.0" x2="271.6" y2="384.6"/><line x1="371.75" y1="421.0" x2="279.5" y2="367.7"/><line x1="371.75" y1="421.0" x2="290.1" y2="352.5"/><line x1="371.75" y1="421.0" x2="303.3" y2="339.4"/><line x1="371.75" y1="421.0" x2="318.5" y2="328.7"/><line x1="371.75" y1="421.0" x2="335.3" y2="320.9"/><line x1="371.75" y1="421.0" x2="353.2" y2="316.1"/><circle cx="371.75" cy="421.0" r="21.31" stroke-width="0.9"/><circle cx="371.75" cy="421.0" r="42.62" stroke-width="0.9"/><circle cx="371.75" cy="421.0" r="63.93" stroke-width="0.9"/><circle cx="371.75" cy="421.0" r="85.24" stroke-width="0.9"/></g>
<line x1="371.75" y1="421.0" x2="353.2" y2="525.9" stroke="#fff" stroke-opacity="0.45" stroke-width="1" stroke-dasharray="1.5 1"/>
<text x="379.85" y="398.61" font-size="13.3">2°</text>
<text x="388.01" y="378.92" font-size="13.3">4°</text>
<text x="396.16" y="359.24" font-size="13.3">6°</text>
<text x="404.32" y="339.55" font-size="13.3">8°</text>
<text x="412.47" y="319.86" font-size="13.3">10°</text>
<g clip-path="url(#c11)" fill="none" stroke-width="1.5" stroke-linejoin="round">
<polygon points="371.8,386.9 376.0,396.7 384.1,387.2 385.8,396.6 391.3,397.7 401.5,396.1 408.3,399.9 399.8,410.8 416.5,413.1 400.8,421.0 392.2,424.6 392.4,428.5 392.5,433.0 387.0,433.8 386.6,438.7 385.9,445.5 379.7,442.8 376.2,446.2 371.8,445.5 368.4,440.2 364.1,442.1 358.9,443.2 356.3,439.4 353.9,436.0 351.4,432.7 353.6,427.6 354.9,424.0 334.7,421.0 337.9,415.0 334.2,407.3 346.6,406.5 345.5,399.0 351.4,396.8 358.6,398.3 361.9,394.1 366.0,388.2" stroke="#1f77b4"/>
<polygon points="371.8,293.1 394.0,295.1 415.5,300.9 435.7,310.3 453.9,323.1 469.7,338.8 482.5,357.1 491.9,377.3 497.7,398.8 486.8,421.0 460.3,436.6 447.7,448.7 454.0,468.5 410.8,453.7 424.0,483.3 408.2,484.2 397.5,491.8 384.4,493.0 371.8,525.4 349.5,546.9 328.0,541.1 307.8,531.7 289.6,518.9 273.8,503.2 261.0,484.9 251.6,464.7 245.8,443.2 243.9,421.0 245.8,398.8 251.6,377.3 261.0,357.1 273.8,338.8 303.9,340.2 330.4,349.3 348.8,358.0 347.9,285.6" stroke="#ff7f0e"/>
<polygon points="371.8,404.8 375.3,401.0 382.2,392.4 383.4,400.8 383.9,406.5 384.3,410.5 384.7,413.5 381.5,417.5 386.4,418.4 384.4,421.0 385.6,423.4 381.9,424.7 379.6,425.5 385.9,432.8 377.9,428.3 378.2,432.3 379.6,442.6 376.4,447.2 371.8,450.6 369.1,436.0 362.9,445.4 365.1,432.4 365.7,428.3 365.6,426.1 365.0,424.9 364.4,423.7 363.8,422.4 362.2,421.0 359.9,418.9 359.1,416.4 359.3,413.8 360.2,411.3 363.6,411.3 364.3,408.1 365.5,403.8 368.4,402.2" stroke="#2ca02c"/>
</g>
<circle cx="371.75" cy="421.0" r="106.55" fill="none" stroke="#000" stroke-opacity="0.56" stroke-width="1.25"/>
</g>
<g>
<g clip-path="url(#c12)">
<polygon points="599.1,402.1 601.6,407.1 604.9,405.2 609.2,403.7 614.9,402.2 618.7,404.6 623.1,407.1 624.5,411.8 641.2,413.6 630.7,421.0 616.3,424.0 609.6,424.8 616.2,430.9 609.2,429.4 607.2,430.5 606.4,433.5 608.1,445.6 604.1,449.2 599.1,446.7 596.9,434.0 592.2,440.0 588.6,439.3 588.9,433.2 588.4,430.0 584.6,429.4 582.7,427.0 580.7,424.3 578.2,421.0 584.4,418.4 575.9,412.5 580.1,410.0 583.5,407.9 577.5,395.2 585.5,397.4 593.5,405.6 594.5,394.9" fill="#1f77b4" fill-opacity="0.2" stroke="none"/>
<polygon points="599.1,185.5 614.2,335.7 624.2,352.2 627.0,372.8 634.2,379.2 654.8,374.3 662.3,384.6 645.2,404.2 671.9,408.2 703.7,421.0 683.1,435.8 656.0,441.7 640.2,444.7 619.8,438.3 623.3,449.8 617.2,452.3 614.1,462.2 606.7,463.9 599.1,459.4 592.4,459.5 575.5,486.1 572.9,466.4 569.9,455.9 571.2,444.5 568.5,438.7 551.9,438.2 554.7,428.8 521.0,421.0 548.5,412.1 545.1,401.3 562.5,399.8 546.3,376.7 558.1,372.1 574.1,377.6 583.5,377.9 586.8,351.0" fill="#ff7f0e" fill-opacity="0.2" stroke="none"/>
<polygon points="599.1,399.4 605.1,387.0 611.9,386.1 620.6,383.9 621.8,394.0 626.0,398.5 621.8,407.9 618.4,414.0 617.5,417.8 615.0,421.0 612.9,423.4 611.2,425.4 609.8,427.1 608.9,429.2 607.2,430.5 610.1,440.0 608.6,447.0 606.0,459.7 599.1,446.7 594.1,449.8 587.1,454.1 588.8,438.9 589.3,432.8 587.0,431.2 584.3,429.6 588.8,424.8 590.7,422.5 585.7,421.0 588.7,419.1 586.2,416.3 586.9,413.9 586.4,410.3 585.0,404.2 587.6,401.0 590.5,397.4 596.3,404.7" fill="#2ca02c" fill-opacity="0.2" stroke="none"/>
</g>
<g stroke="#b0b0b0" stroke-opacity="0.245" stroke-width="1.2" fill="none"><line x1="599.15" y1="421.0" x2="599.1" y2="314.4"/><line x1="599.15" y1="421.0" x2="617.7" y2="316.1"/><line x1="599.15" y1="421.0" x2="635.6" y2="320.9"/><line x1="599.15" y1="421.0" x2="652.4" y2="328.7"/><line x1="599.15" y1="421.0" x2="667.6" y2="339.4"/><line x1="599.15" y1="421.0" x2="680.8" y2="352.5"/><line x1="599.15" y1="421.0" x2="691.4" y2="367.7"/><line x1="599.15" y1="421.0" x2="699.3" y2="384.6"/><line x1="599.15" y1="421.0" x2="704.1" y2="402.5"/><line x1="599.15" y1="421.0" x2="705.7" y2="421.0"/><line x1="599.15" y1="421.0" x2="704.1" y2="439.5"/><line x1="599.15" y1="421.0" x2="699.3" y2="457.4"/><line x1="599.15" y1="421.0" x2="691.4" y2="474.3"/><line x1="599.15" y1="421.0" x2="680.8" y2="489.5"/><line x1="599.15" y1="421.0" x2="667.6" y2="502.6"/><line x1="599.15" y1="421.0" x2="652.4" y2="513.3"/><line x1="599.15" y1="421.0" x2="635.6" y2="521.1"/><line x1="599.15" y1="421.0" x2="617.7" y2="525.9"/><line x1="599.15" y1="421.0" x2="599.1" y2="527.5"/><line x1="599.15" y1="421.0" x2="580.6" y2="525.9"/><line x1="599.15" y1="421.0" x2="562.7" y2="521.1"/><line x1="599.15" y1="421.0" x2="545.9" y2="513.3"/><line x1="599.15" y1="421.0" x2="530.7" y2="502.6"/><line x1="599.15" y1="421.0" x2="517.5" y2="489.5"/><line x1="599.15" y1="421.0" x2="506.9" y2="474.3"/><line x1="599.15" y1="421.0" x2="499.0" y2="457.4"/><line x1="599.15" y1="421.0" x2="494.2" y2="439.5"/><line x1="599.15" y1="421.0" x2="492.6" y2="421.0"/><line x1="599.15" y1="421.0" x2="494.2" y2="402.5"/><line x1="599.15" y1="421.0" x2="499.0" y2="384.6"/><line x1="599.15" y1="421.0" x2="506.9" y2="367.7"/><line x1="599.15" y1="421.0" x2="517.5" y2="352.5"/><line x1="599.15" y1="421.0" x2="530.7" y2="339.4"/><line x1="599.15" y1="421.0" x2="545.9" y2="328.7"/><line x1="599.15" y1="421.0" x2="562.7" y2="320.9"/><line x1="599.15" y1="421.0" x2="580.6" y2="316.1"/><circle cx="599.15" cy="421.0" r="21.31" stroke-width="0.9"/><circle cx="599.15" cy="421.0" r="42.62" stroke-width="0.9"/><circle cx="599.15" cy="421.0" r="63.93" stroke-width="0.9"/><circle cx="599.15" cy="421.0" r="85.24" stroke-width="0.9"/></g>
<line x1="599.15" y1="421.0" x2="592.4" y2="459.5" stroke="#fff" stroke-opacity="0.45" stroke-width="1" stroke-dasharray="1.5 1"/>
<text x="607.25" y="398.61" font-size="13.3">2°</text>
<text x="615.41" y="378.92" font-size="13.3">4°</text>
<text x="623.56" y="359.24" font-size="13.3">6°</text>
<text x="631.72" y="339.55" font-size="13.3">8°</text>
<text x="639.87" y="319.86" font-size="13.3">10°</text>
<g clip-path="url(#c12)" fill="none" stroke-width="1.5" stroke-linejoin="round">
<polygon points="599.1,402.1 601.6,407.1 604.9,405.2 609.2,403.7 614.9,402.2 618.7,404.6 623.1,407.1 624.5,411.8 641.2,413.6 630.7,421.0 616.3,424.0 609.6,424.8 616.2,430.9 609.2,429.4 607.2,430.5 606.4,433.5 608.1,445.6 604.1,449.2 599.1,446.7 596.9,434.0 592.2,440.0 588.6,439.3 588.9,433.2 588.4,430.0 584.6,429.4 582.7,427.0 580.7,424.3 578.2,421.0 584.4,418.4 575.9,412.5 580.1,410.0 583.5,407.9 577.5,395.2 585.5,397.4 593.5,405.6 594.5,394.9" stroke="#1f77b4"/>
<polygon points="599.1,185.5 614.2,335.7 624.2,352.2 627.0,372.8 634.2,379.2 654.8,374.3 662.3,384.6 645.2,404.2 671.9,408.2 703.7,421.0 683.1,435.8 656.0,441.7 640.2,444.7 619.8,438.3 623.3,449.8 617.2,452.3 614.1,462.2 606.7,463.9 599.1,459.4 592.4,459.5 575.5,486.1 572.9,466.4 569.9,455.9 571.2,444.5 568.5,438.7 551.9,438.2 554.7,428.8 521.0,421.0 548.5,412.1 545.1,401.3 562.5,399.8 546.3,376.7 558.1,372.1 574.1,377.6 583.5,377.9 586.8,351.0" stroke="#ff7f0e"/>
<polygon points="599.1,399.4 605.1,387.0 611.9,386.1 620.6,383.9 621.8,394.0 626.0,398.5 621.8,407.9 618.4,414.0 617.5,417.8 615.0,421.0 612.9,423.4 611.2,425.4 609.8,427.1 608.9,429.2 607.2,430.5 610.1,440.0 608.6,447.0 606.0,459.7 599.1,446.7 594.1,449.8 587.1,454.1 588.8,438.9 589.3,432.8 587.0,431.2 584.3,429.6 588.8,424.8 590.7,422.5 585.7,421.0 588.7,419.1 586.2,416.3 586.9,413.9 586.4,410.3 585.0,404.2 587.6,401.0 590.5,397.4 596.3,404.7" stroke="#2ca02c"/>
</g>
<circle cx="599.15" cy="421.0" r="106.55" fill="none" stroke="#000" stroke-opacity="0.56" stroke-width="1.25"/>
</g>
<text x="144.6" y="41.2" font-size="16" text-anchor="middle">MSE loss</text>
<text x="371.75" y="41.2" font-size="16" text-anchor="middle">AD loss</text>
<text x="599.15" y="41.2" font-size="16" text-anchor="middle">Hybrid loss</text>
<text transform="translate(21.2,136) rotate(-90)" font-size="16.35" stroke-width="0.15" text-anchor="middle">BAST-NSP</text>
<text transform="translate(21.2,420) rotate(-90)" font-size="16.35" stroke-width="0.15" text-anchor="middle">BAST-SP</text>
<g stroke="#000" fill="none" stroke-width="1.45"><circle cx="36.75" cy="36.3" r="15.5"/><line x1="36.75" y1="64.4" x2="36.75" y2="8"/><line x1="9" y1="36.3" x2="65" y2="36.3"/></g>
<polygon points="36.75,5.3 34.7,8.9 38.8,8.9" fill="#000"/>
<polygon points="68.2,36.3 64.6,34.25 64.6,38.349999999999994" fill="#000"/>
<text x="39.8" y="14.6" font-size="8">0°</text>
<text x="4.4" y="32.8" font-size="8">-90°</text>
<text x="56.9" y="32.8" font-size="8">90°</text>
<text x="40.0" y="62.6" font-size="8">180°</text>
<rect x="157.2" y="545.6" width="405.4" height="23.5" rx="2.6" ry="2.6" fill="#fff" fill-opacity="0.8" stroke="#ccc" stroke-opacity="0.8" stroke-width="1"/>
<line x1="162.0" y1="556.4" x2="189.8" y2="556.4" stroke="#1f77b4" stroke-width="1.5"/>
<text x="200.0" y="561.25" font-size="13.3">Concatenation</text>
<line x1="322.9" y1="556.4" x2="350.6" y2="556.4" stroke="#ff7f0e" stroke-width="1.5"/>
<text x="361.0" y="561.25" font-size="13.3">Addition</text>
<line x1="442.2" y1="556.4" x2="470.0" y2="556.4" stroke="#2ca02c" stroke-width="1.5"/>
<text x="480.6" y="561.25" font-size="13.3">Subtraction</text>
</svg></body></html>
